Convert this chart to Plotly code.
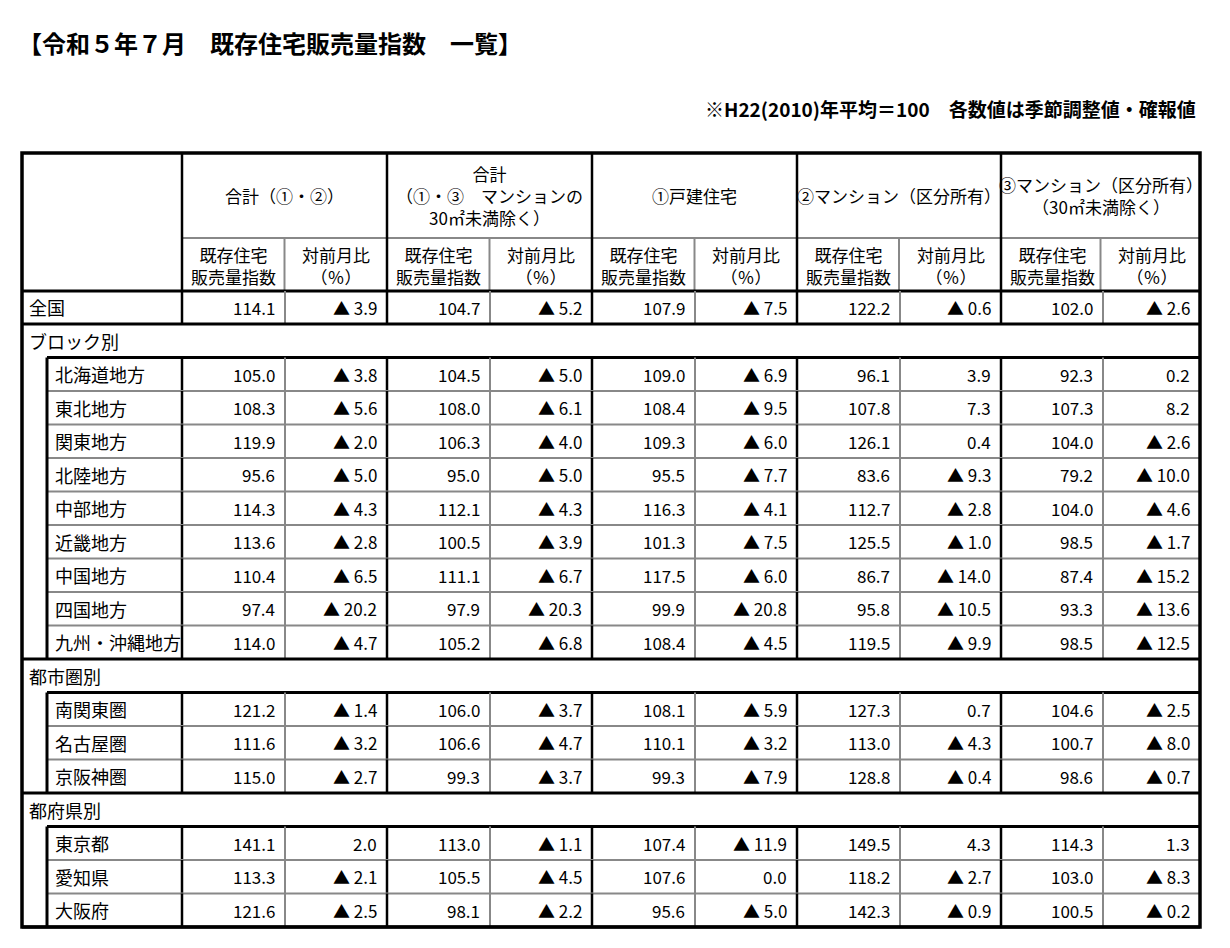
import plotly.graph_objects as go

title = "【令和５年７月　既存住宅販売量指数　一覧】"
note = "※H22(2010)年平均＝100　各数値は季節調整値・確報値"

groups = ["合計（①・②）", "合計<br>（①・③　マンションの<br>30㎡未満除く）", "①戸建住宅",
          "②マンション（区分所有）", "③マンション（区分所有）<br>（30㎡未満除く）"]
sub_headers = ["既存住宅<br>販売量指数", "対前月比<br>（％）"]

national = ["114.1", "▲ 3.9", "104.7", "▲ 5.2", "107.9", "▲ 7.5", "122.2", "▲ 0.6", "102.0", "▲ 2.6"]

block_names = ["北海道地方", "東北地方", "関東地方", "北陸地方", "中部地方", "近畿地方", "中国地方", "四国地方", "九州・沖縄地方"]
block_vals = [
    ["105.0", "▲ 3.8", "104.5", "▲ 5.0", "109.0", "▲ 6.9", "96.1", "3.9", "92.3", "0.2"],
    ["108.3", "▲ 5.6", "108.0", "▲ 6.1", "108.4", "▲ 9.5", "107.8", "7.3", "107.3", "8.2"],
    ["119.9", "▲ 2.0", "106.3", "▲ 4.0", "109.3", "▲ 6.0", "126.1", "0.4", "104.0", "▲ 2.6"],
    ["95.6", "▲ 5.0", "95.0", "▲ 5.0", "95.5", "▲ 7.7", "83.6", "▲ 9.3", "79.2", "▲ 10.0"],
    ["114.3", "▲ 4.3", "112.1", "▲ 4.3", "116.3", "▲ 4.1", "112.7", "▲ 2.8", "104.0", "▲ 4.6"],
    ["113.6", "▲ 2.8", "100.5", "▲ 3.9", "101.3", "▲ 7.5", "125.5", "▲ 1.0", "98.5", "▲ 1.7"],
    ["110.4", "▲ 6.5", "111.1", "▲ 6.7", "117.5", "▲ 6.0", "86.7", "▲ 14.0", "87.4", "▲ 15.2"],
    ["97.4", "▲ 20.2", "97.9", "▲ 20.3", "99.9", "▲ 20.8", "95.8", "▲ 10.5", "93.3", "▲ 13.6"],
    ["114.0", "▲ 4.7", "105.2", "▲ 6.8", "108.4", "▲ 4.5", "119.5", "▲ 9.9", "98.5", "▲ 12.5"],
]
metro_names = ["南関東圏", "名古屋圏", "京阪神圏"]
metro_vals = [
    ["121.2", "▲ 1.4", "106.0", "▲ 3.7", "108.1", "▲ 5.9", "127.3", "0.7", "104.6", "▲ 2.5"],
    ["111.6", "▲ 3.2", "106.6", "▲ 4.7", "110.1", "▲ 3.2", "113.0", "▲ 4.3", "100.7", "▲ 8.0"],
    ["115.0", "▲ 2.7", "99.3", "▲ 3.7", "99.3", "▲ 7.9", "128.8", "▲ 0.4", "98.6", "▲ 0.7"],
]
pref_names = ["東京都", "愛知県", "大阪府"]
pref_vals = [
    ["141.1", "2.0", "113.0", "▲ 1.1", "107.4", "▲ 11.9", "149.5", "4.3", "114.3", "1.3"],
    ["113.3", "▲ 2.1", "105.5", "▲ 4.5", "107.6", "0.0", "118.2", "▲ 2.7", "103.0", "▲ 8.3"],
    ["121.6", "▲ 2.5", "98.1", "▲ 2.2", "95.6", "▲ 5.0", "142.3", "▲ 0.9", "100.5", "▲ 0.2"],
]
sections = [("ブロック別", block_names, block_vals),
            ("都市圏別", metro_names, metro_vals),
            ("都府県別", pref_names, pref_vals)]

# layout geometry (pixels)
W, H = 1230, 948
OFF = 8  # page body margin
col_x = [22, 182, 285, 387, 490, 592, 695, 797, 900, 1001, 1103, 1200]
indent_x = 47
top, head1, head2 = 153, 238, 291
row_h = 33.5
FONT = "Noto Sans CJK JP"

shapes, ann = [], []


def line(x0, y0, x1, y1, w=2.5, c="black"):
    shapes.append(dict(type="line", xref="x", yref="y", x0=x0, y0=y0, x1=x1, y1=y1,
                       line=dict(color=c, width=w)))


def text(x, y, s, anchor="center", size=17):
    ann.append(dict(x=x, y=y, xref="x", yref="y", text=s, showarrow=False, xanchor=anchor,
                    yanchor="middle", font=dict(size=size, family=FONT, color="black"), align="center"))


text(16, 42, "<b>" + title + "</b>", "left", 24)
text(1198, 108, "<b>" + note + "</b>", "right", 19)

# headers
for g in range(5):
    xa, xb = col_x[1 + 2 * g], col_x[3 + 2 * g]
    text((xa + xb) / 2, (top + head1) / 2, groups[g], size=17)
    for k in range(2):
        ca, cb = col_x[1 + 2 * g + k], col_x[2 + 2 * g + k]
        text((ca + cb) / 2, (head1 + head2) / 2 + 1, sub_headers[k], size=17)
    line(xa, head1, xb, head1, 2, "#888")
    line(xa + (xb - xa) / 2, head1, xa + (xb - xa) / 2, head2, 2, "#888")


def value_row(y0, y1, vals, left):
    for i, v in enumerate(vals):
        text(col_x[2 + i] - 8, (y0 + y1) / 2, v, "right", 17)
        xc = col_x[2 + i]
        if i < 9:
            line(xc, y0, xc, y1, 2.5 if i % 2 else 2, "black" if i % 2 else "#888")
    line(col_x[1], y0, col_x[1], y1)
    line(left, y1, col_x[-1], y1, 2, "#888")


y = head2
line(col_x[0], y, col_x[-1], y, 3)
text(col_x[0] + 5, y + 16, "全国", "left", 18)
value_row(y, y + 33, national, col_x[0])
y += 33
line(col_x[0], y, col_x[-1], y, 3)
for sec, names, vals in sections:
    text(col_x[0] + 5, y + row_h / 2, sec, "left", 18)
    y += row_h
    line(indent_x, y, col_x[-1], y, 3)
    y0 = y
    for n, v in zip(names, vals):
        text(indent_x + 6, y + row_h / 2, n, "left", 18)
        value_row(y, y + row_h, v, indent_x)
        y += row_h
    line(indent_x, y0, indent_x, y, 3)
    line(col_x[0], y, col_x[-1], y, 3)

# outer frame and group dividers
for gx in [col_x[1], col_x[3], col_x[5], col_x[7], col_x[9]]:
    line(gx, top, gx, head2, 2.5)
shapes.append(dict(type="rect", xref="x", yref="y", x0=col_x[0], y0=top, x1=col_x[-1], y1=y,
                   line=dict(color="black", width=3.5)))

fig = go.Figure()
fig.update_layout(width=W, height=H, margin=dict(l=0, r=0, t=0, b=0),
                  paper_bgcolor="white", plot_bgcolor="white",
                  xaxis=dict(range=[OFF, W + OFF], visible=False, fixedrange=True),
                  yaxis=dict(range=[H + OFF, OFF], visible=False, fixedrange=True),
                  shapes=shapes, annotations=ann, showlegend=False)
fig.write_html("out.html")
